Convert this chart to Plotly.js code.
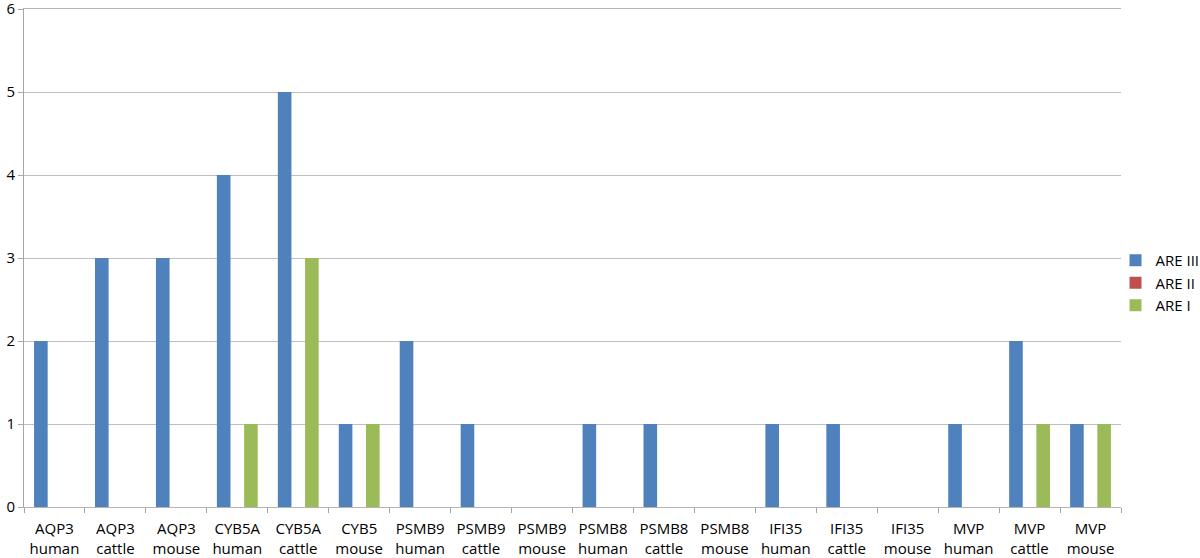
<!DOCTYPE html>
<html>
<head>
<meta charset="utf-8">
<script src="https://cdn.plot.ly/plotly-3.0.1.min.js"></script>
<style>html,body{margin:0;padding:0;background:#fff;}#chart{width:1200px;height:558px;}</style>
</head>
<body>
<div id="chart"></div>
<script>
const categories = ["AQP3<br>human","AQP3<br>cattle","AQP3<br>mouse","CYB5A<br>human","CYB5A<br>cattle","CYB5<br>mouse","PSMB9<br>human","PSMB9<br>cattle","PSMB9<br>mouse","PSMB8<br>human","PSMB8<br>cattle","PSMB8<br>mouse","IFI35<br>human","IFI35<br>cattle","IFI35<br>mouse","MVP<br>human","MVP<br>cattle","MVP<br>mouse"];
const areIII = [2,3,3,4,5,1,2,1,0,1,1,0,1,1,0,1,2,1];
const areII  = [0,0,0,0,0,0,0,0,0,0,0,0,0,0,0,0,0,0];
const areI   = [0,0,0,1,3,1,0,0,0,0,0,0,0,0,0,0,1,1];
const yTicks = [0,1,2,3,4,5,6];

const traces = [
  {type:'bar', name:'ARE III', legendgroup:'a', x:categories, y:areIII, marker:{color:'#4F81BD'}},
  {type:'bar', name:'ARE II', legendgroup:'b', x:categories, y:areII, marker:{color:'#C0504D'}},
  {type:'bar', name:'ARE I', legendgroup:'c', x:categories, y:areI, marker:{color:'#9BBB59'}}
];
const layout = {
  width:1200, height:558,
  margin:{l:24, r:79, t:9, b:51, autoexpand:false},
  paper_bgcolor:'#fff', plot_bgcolor:'#fff',
  font:{family:'Open Sans, sans-serif', size:15, color:'#000'},
  barmode:'group', bargap:0.33, bargroupgap:0,
  showlegend:true,
  legend:{x:0.995, xanchor:'left', y:0.45, yanchor:'middle', font:{size:15}, tracegroupgap:5, itemwidth:30, traceorder:'normal', bgcolor:'rgba(0,0,0,0)'},
  xaxis:{type:'category', showline:true, mirror:true, linecolor:'#b4b4b4', linewidth:1, ticks:'outside', tickson:'boundaries', ticklen:5, tickcolor:'#a6a6a6', showgrid:false, tickfont:{size:15}, ticklabelstandoff:8},
  yaxis:{range:[0,6], tickvals:yTicks, showline:true, linecolor:'#a6a6a6', linewidth:1, ticks:'outside', ticklen:5, tickcolor:'#a6a6a6', showgrid:true, gridcolor:'#bfbfbf', zeroline:false, tickfont:{size:15}, ticklabeloverflow:'allow'}
};
Plotly.newPlot('chart', traces, layout, {displayModeBar:false, staticPlot:true});
</script>
</body>
</html>
